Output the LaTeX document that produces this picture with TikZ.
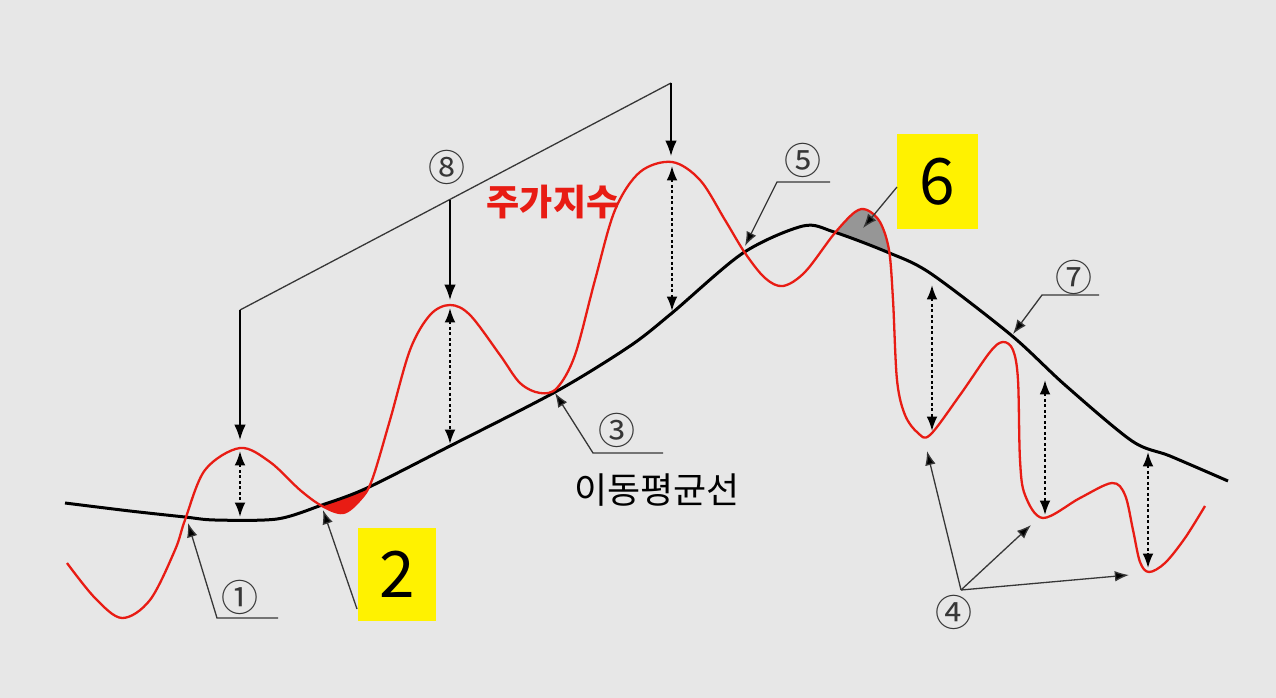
\documentclass[tikz,border=0pt]{standalone}
\usepackage{fontspec}
\newfontfamily\krfont{Noto Sans CJK KR}
\usetikzlibrary{positioning, arrows.meta}

\definecolor{bgcol}{RGB}{231,231,231}
\definecolor{pricered}{RGB}{232,28,20}
\definecolor{tagyellow}{RGB}{255,242,0}
\definecolor{leadgray}{RGB}{55,55,55}
\definecolor{areagray}{RGB}{150,150,150}

% Curves.
\newcommand\maline{plot[smooth, tension=0.5] coordinates {(65,503) (130,511) (185,517) (215,520) (277,519) (322,505) (367,488) (450,446) (557,391) (630,346) (672,313) (743,253) (803,226) (834,232) (887,252) (930,273) (1011,335) (1065,385) (1132,441) (1170,456) (1228,481)}}
\newcommand\priceline{plot[smooth, tension=0.55] coordinates {(67,563) (95,598) (122,618) (150,600) (175,550) (185,520) (205,470) (240,448) (270,462) (300,490) (322,506) (343,513) (360,500) (372,480) (390,420) (410,350) (430,315) (450,305) (470,315) (500,355) (520,383) (540,393) (557,388) (575,355) (595,280) (615,210) (640,172) (672,162) (700,180) (725,220) (745,253) (765,278) (783,286) (805,272) (834,234) (855,212) (867,210) (880,222) (889,250) (893,300) (897,380) (905,415) (918,433) (930,435) (960,395) (990,352) (1003,342) (1013,350) (1018,380) (1020,460) (1025,495) (1043,518) (1080,498) (1112,483) (1125,495) (1133,530) (1140,562) (1149,572) (1165,563) (1185,538) (1205,506)}}

\begin{document}
\begin{tikzpicture}[x=1pt, y=-1pt,
    ma/.style={draw=black, line width=3pt, line join=round},
    price/.style={draw=pricered, line width=2.3pt, line join=round},
    leader/.style={draw=leadgray, line width=1.3pt},
    arrow/.style={leader, -{Latex[scale=1.6, fill=black]}},
    drop/.style={draw=black, line width=1.6pt, -{Latex[scale=1.5]}},
    gap/.style={draw=black, line width=2pt, dash pattern=on 3pt off 2.5pt,
        {Latex[scale=1.2]}-{Latex[scale=1.2]}},
    num/.style={inner sep=0pt, text=leadgray, font=\krfont\fontsize{37}{37}\selectfont},
    tag/.style={fill=tagyellow, inner sep=0pt, font=\krfont\fontsize{64}{64}\selectfont},
    lbl/.style={inner sep=0pt, font=\krfont\fontsize{36}{36}\selectfont}]

    % Background.
    \fill[bgcol] (0,0) rectangle (1276,698);
    \useasboundingbox (0,0) rectangle (1276,698);

    % Red area under the average.
    \begin{scope}
        \clip (315,0) rectangle (380,698);
        \clip \maline -- (1228,698) -- (65,698) -- cycle;
        \fill[pricered] \priceline -- (1205,0) -- (67,0) -- cycle;
    \end{scope}

    % Gray area over the average.
    \begin{scope}
        \clip (828,0) rectangle (897,698);
        \clip \maline -- (1228,0) -- (65,0) -- cycle;
        \fill[areagray] \priceline -- (1205,698) -- (67,698) -- cycle;
    \end{scope}

    \draw[ma] \maline;
    \draw[price] \priceline;

    % Nodes.
    \node[num] (n1) at (240,597) {①};
    \node[num] (n3) at (617,430) {③};
    \node[num] (n4) at (954,612) {④};
    \node[num] (n5) at (803,160) {⑤};
    \node[num] (n7) at (1074,277) {⑦};
    \node[num] (n8) at (447,167) {⑧};
    \node[tag, minimum width=78pt, minimum height=93pt] (t2) at (397,574.5) {2};
    \node[tag, minimum width=81pt, minimum height=95pt] (t6) at (937.5,181.5) {6};
    \node[lbl, text=pricered] (price) at (553,202) {\bfseries 주가지수};
    \node[lbl] (avg) at (657,490) {이동평균선};

    % Leader points.
    \foreach \n/\x/\y in {a1/188/523, b1/217/618, e1/278/618,
        a2/323/510, b2/357/609,
        a3/555/393, b3/593/453, e3/663/453,
        a5/745/246, b5/777/182, e5/830/182,
        a6/863/228, b6/897/187,
        a7/1013/334, b7/1042/295, e7/1099/295,
        h4/961/590, p4/927/451, q4/1031/525, r4/1129/575,
        k1/240/310, k2/450/199.6, k3/671/83,
        d1/240/440, d2/450/300, d3/671/156}
    \coordinate (\n) at (\x,\y);

    % Leaders.
    \draw[arrow] (e1) -- (b1) -- (a1);
    \draw[arrow] (b2) -- (a2);
    \draw[arrow] (e3) -- (b3) -- (a3);
    \draw[arrow] (e5) -- (b5) -- (a5);
    \draw[arrow] (b6) -- (a6);
    \draw[arrow] (e7) -- (b7) -- (a7);
    \foreach \j in {p4, q4, r4}
    \draw[arrow] (h4) -- (\j);

    % Bracket of peaks.
    \draw[leader] (k1) -- (k3);
    \foreach \i/\j in {k1/d1, k2/d2, k3/d3}
    \draw[drop] (\i) -- (\j);

    % Gaps to the average.
    \foreach \x/\a/\b in {240/451/517, 450/308/444, 672/166/311,
        932/285/431, 1045/380/515, 1148/452/568}
    {
        \coordinate (g\x a) at (\x,\a);
        \coordinate (g\x b) at (\x,\b);
        \draw[gap] (g\x a) -- (g\x b);
    }
\end{tikzpicture}
\end{document}
